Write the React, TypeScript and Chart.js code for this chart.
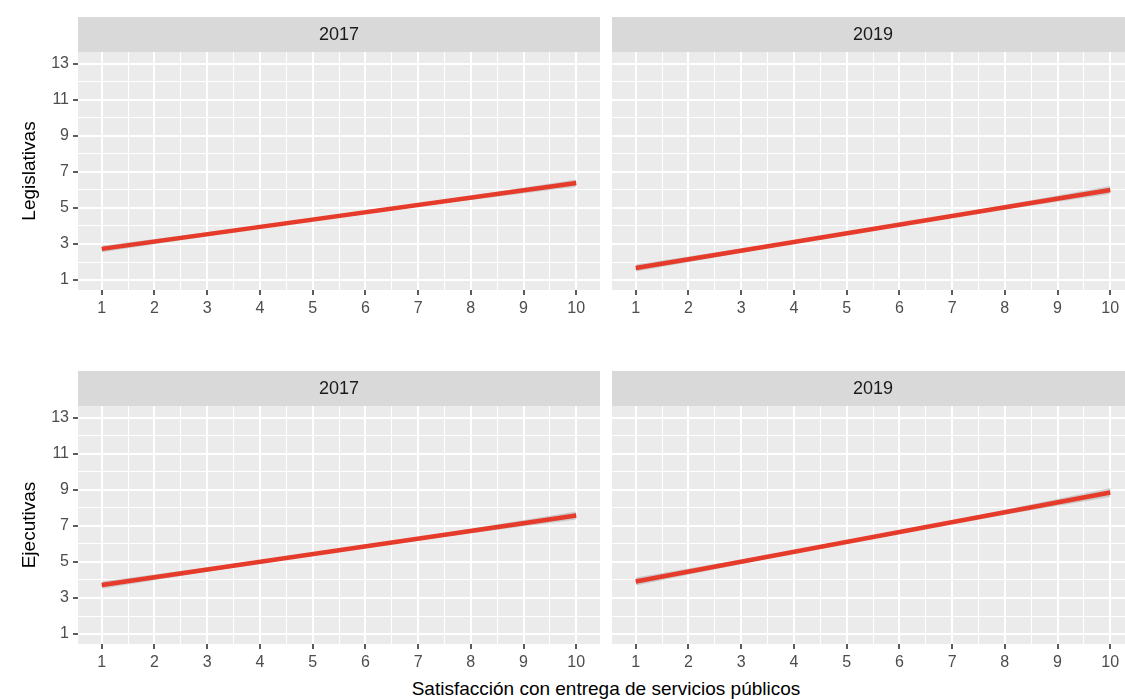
import React, { useEffect, useRef } from "react";
import { Chart, registerables } from "chart.js";

Chart.register(...registerables);
Chart.defaults.font.family = "'Liberation Sans', Arial, Helvetica, sans-serif";

// Axis breaks (major ticks are labelled, minor ones only get a thin grid line)
const xTicks = [1, 2, 3, 4, 5, 6, 7, 8, 9, 10];
const xMinor = [1.5, 2.5, 3.5, 4.5, 5.5, 6.5, 7.5, 8.5, 9.5];
const yTicks = [1, 3, 5, 7, 9, 11, 13];
const yMinor = [2, 4, 6, 8, 10, 12];

// Facet labels
const years = ["2017", "2019"];
const rowLabels = ["Legislativas", "Ejecutivas"];
const xTitle = "Satisfacción con entrega de servicios públicos";

// Fitted linear trend (value at x = 1 and x = 10)
const fitX = [1, 10];
const legislativas2017 = [2.73, 6.38];
const legislativas2019 = [1.67, 6.0];
const ejecutivas2017 = [3.72, 7.58];
const ejecutivas2019 = [3.92, 8.85];

// Confidence band around each trend
const bandX = [1, 4, 7, 10];
const legislativas2017Low = [2.55, 3.87, 5.08, 6.18];
const legislativas2017High = [2.91, 4.03, 5.24, 6.58];
const legislativas2019Low = [1.47, 3.03, 4.48, 5.78];
const legislativas2019High = [1.87, 3.19, 4.64, 6.22];
const ejecutivas2017Low = [3.52, 4.93, 6.21, 7.36];
const ejecutivas2017High = [3.92, 5.09, 6.37, 7.8];
const ejecutivas2019Low = [3.7, 5.48, 7.13, 8.6];
const ejecutivas2019High = [4.14, 5.64, 7.29, 9.1];

const X_MIN = 0.55;
const X_MAX = 10.45;
const Y_MIN = 0.45;
const Y_MAX = 13.65;

const STRIP_H = 35;
const PANEL_H = 238;
const XAXIS_H = 30;
const YAXIS_W = 78;
const PANEL_W = 522;

const PANEL_BG = "#EBEBEB";
const STRIP_BG = "#D9D9D9";
const LINE_RED = "#E63B2A";
const BAND_FILL = "rgba(153,153,153,0.4)";

type PanelSpec = {
  year: string;
  fit: number[];
  low: number[];
  high: number[];
  left: number;
  top: number;
  showY: boolean;
};

const toPoints = (xs: number[], ys: number[]) => xs.map((x, i) => ({ x, y: ys[i] }));

const stripPlugin = {
  id: "facetStrip",
  beforeDraw(chart: any, _args: any, opts: any) {
    const { ctx, chartArea } = chart;
    ctx.save();
    ctx.fillStyle = PANEL_BG;
    ctx.fillRect(chartArea.left, chartArea.top, chartArea.right - chartArea.left, chartArea.bottom - chartArea.top);
    ctx.fillStyle = STRIP_BG;
    ctx.fillRect(chartArea.left, chartArea.top - STRIP_H, chartArea.right - chartArea.left, STRIP_H);
    ctx.fillStyle = "#1A1A1A";
    ctx.font = "18px 'Liberation Sans', Arial, sans-serif";
    ctx.textAlign = "center";
    ctx.textBaseline = "middle";
    ctx.fillText(opts.label, (chartArea.left + chartArea.right) / 2, chartArea.top - STRIP_H / 2 + 1);
    ctx.restore();
  },
};

function Panel({ spec }: { spec: PanelSpec }) {
  const ref = useRef<HTMLCanvasElement | null>(null);
  const width = (spec.showY ? YAXIS_W : 0) + PANEL_W;
  const height = STRIP_H + PANEL_H + XAXIS_H;

  useEffect(() => {
    if (!ref.current) return;
    const xAll = [...xTicks, ...xMinor].sort((a, b) => a - b);
    const yAll = [...yTicks, ...yMinor].sort((a, b) => a - b);
    const chart = new Chart(ref.current, {
      type: "line",
      data: {
        datasets: [
          {
            data: toPoints(fitX, spec.fit),
            borderColor: LINE_RED,
            borderWidth: 4.5,
            pointRadius: 0,
            fill: false,
          },
          {
            data: toPoints(bandX, spec.low),
            borderWidth: 0,
            borderColor: "rgba(0,0,0,0)",
            pointRadius: 0,
            fill: false,
          },
          {
            data: toPoints(bandX, spec.high),
            borderWidth: 0,
            borderColor: "rgba(0,0,0,0)",
            backgroundColor: BAND_FILL,
            pointRadius: 0,
            fill: "-1",
          },
        ],
      },
      options: {
        responsive: false,
        animation: false,
        devicePixelRatio: 1,
        layout: { padding: { top: STRIP_H, left: 0, right: 0, bottom: 0 } },
        plugins: {
          legend: { display: false },
          tooltip: { enabled: false },
          facetStrip: { label: spec.year },
        } as any,
        scales: {
          x: {
            type: "linear",
            min: X_MIN,
            max: X_MAX,
            afterBuildTicks: (s: any) => {
              s.ticks = xAll.map((v) => ({ value: v }));
            },
            afterFit: (s: any) => {
              s.height = XAXIS_H;
            },
            ticks: {
              autoSkip: false,
              maxRotation: 0,
              padding: 4,
              color: "#4D4D4D",
              font: { size: 16 },
              callback: (v: any) => (xTicks.includes(Number(v)) ? String(v) : ""),
            },
            grid: {
              color: "#FFFFFF",
              lineWidth: (c: any) => (xTicks.includes(c.tick?.value) ? 2 : 1),
              drawTicks: true,
              tickLength: 5,
              tickWidth: 1.6,
              tickColor: (c: any) => (xTicks.includes(c.tick?.value) ? "#333333" : "rgba(0,0,0,0)"),
            },
            border: { display: false },
          },
          y: {
            type: "linear",
            min: Y_MIN,
            max: Y_MAX,
            afterBuildTicks: (s: any) => {
              s.ticks = yAll.map((v) => ({ value: v }));
            },
            afterFit: (s: any) => {
              s.width = spec.showY ? YAXIS_W : 0;
            },
            ticks: {
              display: spec.showY,
              autoSkip: false,
              padding: 4,
              color: "#4D4D4D",
              font: { size: 16 },
              callback: (v: any) => (yTicks.includes(Number(v)) ? String(v) : ""),
            },
            grid: {
              color: "#FFFFFF",
              lineWidth: (c: any) => (yTicks.includes(c.tick?.value) ? 2 : 1),
              drawTicks: spec.showY,
              tickLength: 5,
              tickWidth: 1.6,
              tickColor: (c: any) => (yTicks.includes(c.tick?.value) ? "#333333" : "rgba(0,0,0,0)"),
            },
            border: { display: false },
          },
        },
      } as any,
      plugins: [stripPlugin],
    });
    return () => chart.destroy();
  }, [spec]);

  return (
    <canvas
      ref={ref}
      width={width}
      height={height}
      style={{ position: "absolute", left: spec.left, top: spec.top, width, height }}
    />
  );
}

const panels: PanelSpec[] = [
  { year: years[0], fit: legislativas2017, low: legislativas2017Low, high: legislativas2017High, left: 0, top: 17, showY: true },
  { year: years[1], fit: legislativas2019, low: legislativas2019Low, high: legislativas2019High, left: 612, top: 17, showY: false },
  { year: years[0], fit: ejecutivas2017, low: ejecutivas2017Low, high: ejecutivas2017High, left: 0, top: 371, showY: true },
  { year: years[1], fit: ejecutivas2019, low: ejecutivas2019Low, high: ejecutivas2019High, left: 612, top: 371, showY: false },
];

const titleFont = "'Liberation Sans', Arial, sans-serif";

export default function App() {
  return (
    <div
      style={{
        position: "absolute",
        left: 0,
        top: 0,
        width: 1125,
        height: 699,
        overflow: "hidden",
        background: "#FFFFFF",
      }}
    >
      {panels.map((p, i) => (
        <Panel key={i} spec={p} />
      ))}
      {rowLabels.map((label, i) => (
        <div
          key={label}
          style={{
            position: "absolute",
            left: 28,
            top: i === 0 ? 171 : 525,
            transform: "translate(-50%, -50%) rotate(-90deg)",
            fontFamily: titleFont,
            fontSize: 19,
            lineHeight: 1,
            whiteSpace: "nowrap",
            color: "#000000",
          }}
        >
          {label}
        </div>
      ))}
      <div
        style={{
          position: "absolute",
          left: 606,
          top: 688,
          transform: "translate(-50%, -50%)",
          fontFamily: titleFont,
          fontSize: 19,
          lineHeight: 1,
          whiteSpace: "nowrap",
          color: "#000000",
        }}
      >
        {xTitle}
      </div>
    </div>
  );
}
